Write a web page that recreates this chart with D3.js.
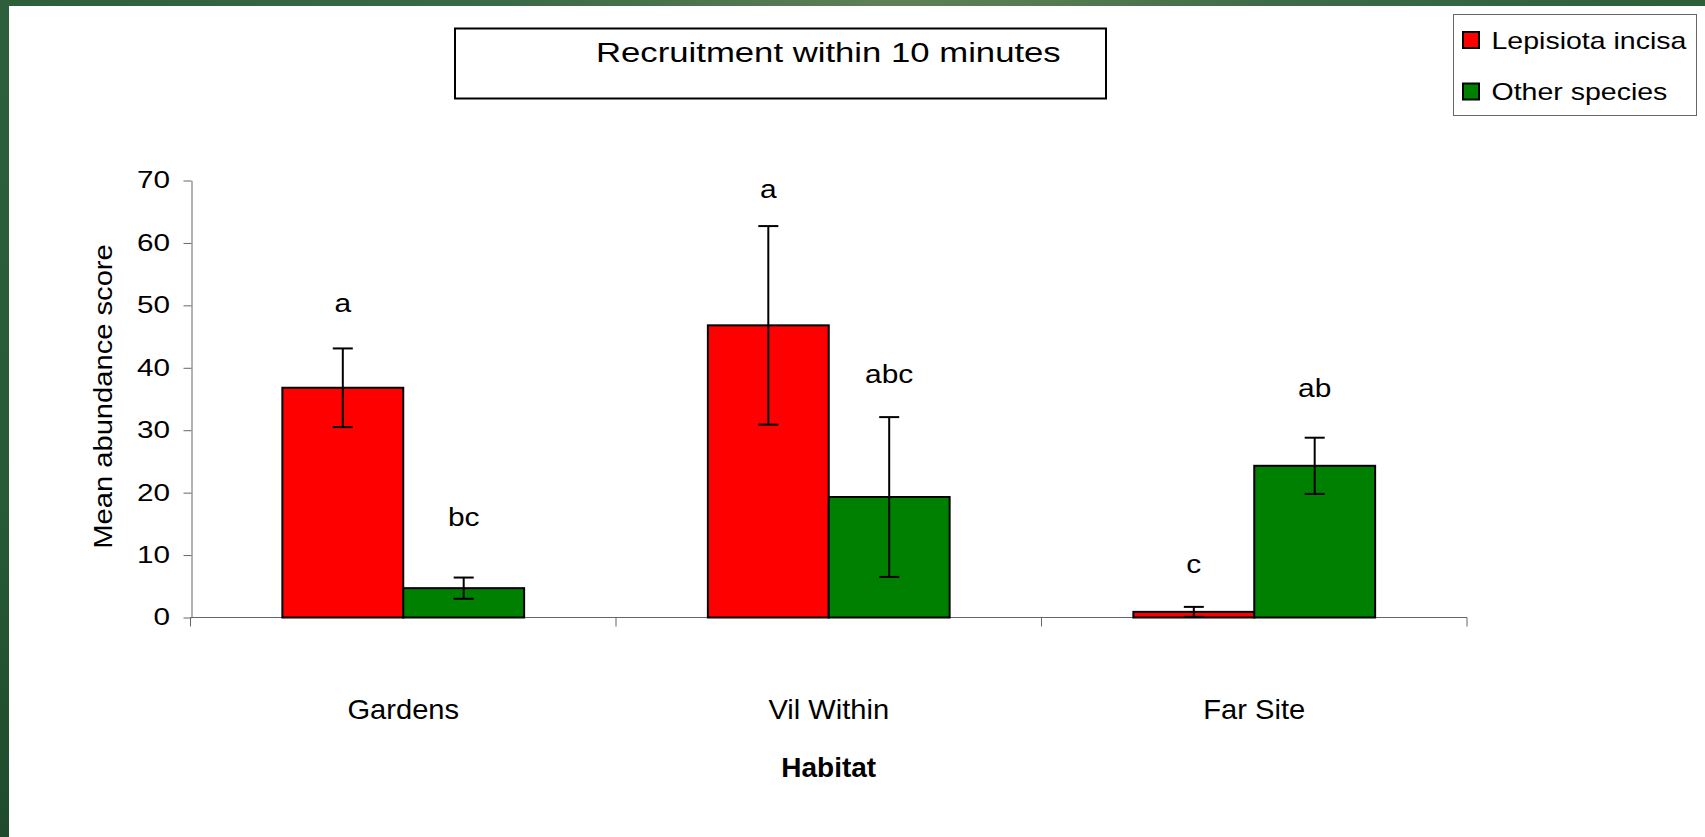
<!DOCTYPE html>
<html>
<head>
<meta charset="utf-8">
<script src="https://cdn.jsdelivr.net/npm/d3@7"></script>
<style>
  body { margin: 0; background: #fff; }
  svg { display: block; font-family: "Liberation Sans", Arial, sans-serif; }
</style>
</head>
<body>
<div id="chart"></div>
<script>
// Recruitment within 10 minutes - grouped bars with error bars

var habitats = ["Gardens", "Vil Within", "Far Site"];
var seriesNames = ["Lepisiota incisa", "Other species"];
var seriesColors = ["#ff0000", "#008000"];

var lepisiota = [36.8, 46.8, 0.9];
var lepisiotaErr = [6.3, 15.9, 0.8];
var otherSpecies = [4.7, 19.3, 24.3];
var otherErr = [1.7, 12.8, 4.5];

// significance letters and the score level they sit at
var lepisiotaLetters = ["a", "a", "c"];
var lepisiotaLetterAt = [49, 67.2, 7.1];
var otherLetters = ["bc", "abc", "ab"];
var otherLetterAt = [14.7, 37.6, 35.4];

var yTicks = [0, 10, 20, 30, 40, 50, 60, 70];

var svgWidth = 1705;
var svgHeight = 837;

var svg = d3.select("#chart")
  .append("svg")
  .attr("width", svgWidth)
  .attr("height", svgHeight);

// slide frame
var defs = svg.append("defs");
var topGrad = defs.append("linearGradient").attr("id", "topband");
[["0%", "#2d5e3a"], ["30%", "#3a6a45"], ["52%", "#5f7f58"], ["62%", "#557a52"], ["75%", "#3d6b47"], ["100%", "#2c5e38"]]
  .forEach(function(s) { topGrad.append("stop").attr("offset", s[0]).attr("stop-color", s[1]); });
var leftGrad = defs.append("linearGradient").attr("id", "leftband")
  .attr("x1", 0).attr("y1", 0).attr("x2", 0).attr("y2", 1);
[["0%", "#2e5f3c"], ["60%", "#275a35"], ["100%", "#1f4b2c"]]
  .forEach(function(s) { leftGrad.append("stop").attr("offset", s[0]).attr("stop-color", s[1]); });

svg.append("rect").attr("x", 0).attr("y", 0).attr("width", svgWidth).attr("height", 6).attr("fill", "url(#topband)");
svg.append("rect").attr("x", 0).attr("y", 0).attr("width", 9).attr("height", svgHeight).attr("fill", "url(#leftband)");

// scales
var x0 = d3.scaleBand()
  .domain(habitats)
  .range([190.5, 1467])
  .padding(0);

var x1 = d3.scaleBand()
  .domain(d3.range(seriesNames.length))
  .range([0, x0.bandwidth()])
  .paddingInner(0)
  .paddingOuter(0.76);

var y = d3.scaleLinear()
  .domain([0, 70])
  .range([617.5, 180.5]);

var rows = habitats.map(function(h, i) {
  return {
    habitat: h,
    values: [
      {s: 0, v: lepisiota[i], e: lepisiotaErr[i], letter: lepisiotaLetters[i], at: lepisiotaLetterAt[i]},
      {s: 1, v: otherSpecies[i], e: otherErr[i], letter: otherLetters[i], at: otherLetterAt[i]}
    ]
  };
});

// y axis
var tickStretch = 1.29;
var yAxisG = svg.append("g")
  .attr("transform", "translate(191.5,0)")
  .call(d3.axisLeft(y).tickValues(yTicks).tickSize(8).tickSizeOuter(0));
yAxisG.selectAll(".domain, .tick line").attr("stroke", "#666").attr("stroke-width", 1);
yAxisG.selectAll("text")
  .attr("font-family", "Liberation Sans, Arial, sans-serif")
  .attr("font-size", 23)
  .attr("fill", "#000")
  .attr("x", -21.5 / tickStretch)
  .attr("transform", "scale(" + tickStretch + ",1)");

// x axis: line plus ticks on the category boundaries
var xAxisG = svg.append("g");
xAxisG.append("line")
  .attr("x1", x0.range()[0]).attr("x2", x0.range()[1])
  .attr("y1", y(0)).attr("y2", y(0))
  .attr("stroke", "#666");
xAxisG.selectAll(".xtick")
  .data(habitats.map(function(h) { return x0(h); }).concat([x0.range()[1]]))
  .enter()
  .append("line")
  .attr("x1", function(d) { return d; })
  .attr("x2", function(d) { return d; })
  .attr("y1", y(0))
  .attr("y2", y(0) + 9)
  .attr("stroke", "#666");

xAxisG.selectAll(".xlabel")
  .data(habitats)
  .enter()
  .append("text")
  .attr("transform", function(d) { return "translate(" + (x0(d) + x0.bandwidth() / 2) + "," + (y(0) + 101.5) + ") scale(1.04,1)"; })
  .attr("text-anchor", "middle")
  .attr("font-size", 28)
  .text(function(d) { return d; });

// bars
var groups = svg.append("g")
  .selectAll("g")
  .data(rows)
  .enter()
  .append("g")
  .attr("transform", function(d) { return "translate(" + x0(d.habitat) + ",0)"; });

groups.selectAll("rect")
  .data(function(d) { return d.values; })
  .enter()
  .append("rect")
  .attr("x", function(d) { return x1(d.s); })
  .attr("y", function(d) { return y(d.v); })
  .attr("width", x1.bandwidth())
  .attr("height", function(d) { return y(0) - y(d.v); })
  .attr("fill", function(d) { return seriesColors[d.s]; })
  .attr("stroke", "#000")
  .attr("stroke-width", 2);

// error bars
var err = groups.selectAll(".err")
  .data(function(d) { return d.values; })
  .enter()
  .append("g")
  .attr("stroke", "#000")
  .attr("stroke-width", 2);

err.append("line")
  .attr("x1", function(d) { return x1(d.s) + x1.bandwidth() / 2; })
  .attr("x2", function(d) { return x1(d.s) + x1.bandwidth() / 2; })
  .attr("y1", function(d) { return y(d.v + d.e); })
  .attr("y2", function(d) { return y(Math.max(0, d.v - d.e)); });
err.append("line")
  .attr("x1", function(d) { return x1(d.s) + x1.bandwidth() / 2 - 10; })
  .attr("x2", function(d) { return x1(d.s) + x1.bandwidth() / 2 + 10; })
  .attr("y1", function(d) { return y(d.v + d.e); })
  .attr("y2", function(d) { return y(d.v + d.e); });
err.append("line")
  .attr("x1", function(d) { return x1(d.s) + x1.bandwidth() / 2 - 10; })
  .attr("x2", function(d) { return x1(d.s) + x1.bandwidth() / 2 + 10; })
  .attr("y1", function(d) { return y(Math.max(0, d.v - d.e)); })
  .attr("y2", function(d) { return y(Math.max(0, d.v - d.e)); });

// letters
groups.selectAll(".letter")
  .data(function(d) { return d.values; })
  .enter()
  .append("text")
  .attr("transform", function(d) { return "translate(" + (x1(d.s) + x1.bandwidth() / 2) + "," + y(d.at) + ") scale(1.15,1)"; })
  .attr("text-anchor", "middle")
  .attr("font-size", 26)
  .text(function(d) { return d.letter; });

// axis titles
svg.append("text")
  .attr("transform", "translate(112,396.5) rotate(-90) scale(1.1,1)")
  .attr("text-anchor", "middle")
  .attr("font-size", 26.5)
  .text("Mean abundance score");

svg.append("text")
  .attr("x", (x0.range()[0] + x0.range()[1]) / 2)
  .attr("y", 776.5)
  .attr("text-anchor", "middle")
  .attr("font-size", 28)
  .attr("font-weight", "bold")
  .text("Habitat");

// title box
svg.append("rect")
  .attr("x", 455).attr("y", 28.5)
  .attr("width", 651).attr("height", 70)
  .attr("fill", "#fff")
  .attr("stroke", "#000")
  .attr("stroke-width", 2);
svg.append("text")
  .attr("transform", "translate(596,61.5) scale(1.24,1)")
  .attr("font-size", 28)
  .text("Recruitment within 10 minutes");

// legend
var legend = svg.append("g");
legend.append("rect")
  .attr("x", 1453.5).attr("y", 14.5)
  .attr("width", 243).attr("height", 101)
  .attr("fill", "#fff")
  .attr("stroke", "#666")
  .attr("stroke-width", 1);
var items = legend.selectAll(".item")
  .data(seriesNames)
  .enter()
  .append("g")
  .attr("transform", function(d, i) { return "translate(1463," + (32 + i * 51.5) + ")"; });
items.append("rect")
  .attr("width", 16).attr("height", 16)
  .attr("fill", function(d, i) { return seriesColors[i]; })
  .attr("stroke", "#000")
  .attr("stroke-width", 2);
items.append("text")
  .attr("transform", "translate(28.5,16.5) scale(1.24,1)")
  .attr("font-size", 23)
  .text(function(d) { return d; });
</script>
</body>
</html>
